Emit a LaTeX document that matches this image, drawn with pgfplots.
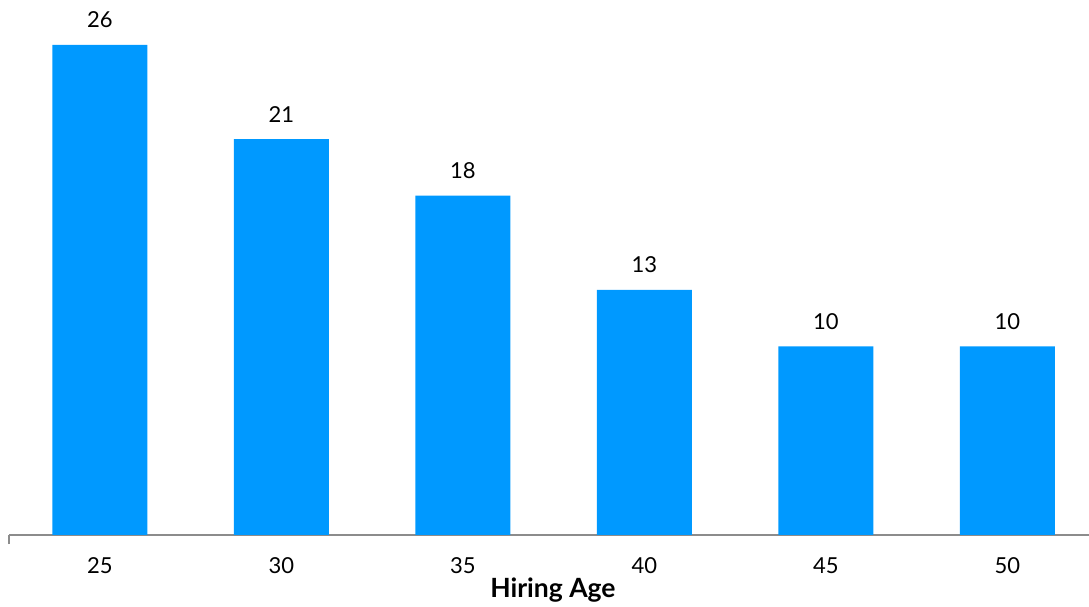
\documentclass[border=0pt]{standalone}
\usepackage{pgfplots}
\pgfplotsset{compat=1.18}
\usepackage{fontspec}
\setmainfont{Lato}
\definecolor{barblue}{HTML}{0099FF}
\definecolor{axgray}{HTML}{8C8C8C}
\begin{document}
\fontsize{22}{26}\selectfont
\begin{tikzpicture}
\begin{axis}[
  at={(0pt,0pt)}, anchor=south west,
  scale only axis,
  width=1089pt, height=535pt,
  xmin=-0.5, xmax=5.5,
  ymin=0, ymax=28.38,
  axis x line=bottom,
  axis y line=none,
  x axis line style={-, draw=axgray, line width=2pt},
  xtick={0,1,2,3,4,5},
  xticklabels={25,30,35,40,45,50},
  major tick length=0pt,
  extra x ticks={-0.5},
  extra x tick labels={},
  extra x tick style={major tick length=9pt, tick style={draw=axgray, line width=2pt}, tickpos=left, xtick align=outside},
  xticklabel style={anchor=base, yshift=-38pt, font=\fontsize{22}{26}\selectfont},
  xlabel={\textbf{Hiring Age}},
  xlabel style={at={(axis description cs:0.4993,0)}, anchor=base, yshift=-63pt, font=\fontsize{26.5}{30}\selectfont},
  ybar, bar width=95pt,
  /pgf/number format/assume math mode=true,
  nodes near coords={\pgfmathprintnumber{\pgfplotspointmeta}},
  every node near coord/.append style={anchor=base, yshift=17pt, font=\fontsize{22}{26}\selectfont, black},
  clip=false,
]
\addplot[fill=barblue, draw=none] coordinates {(0,26) (1,21) (2,18) (3,13) (4,10) (5,10)};
\end{axis}
\pgfresetboundingbox
\path (-9.25pt,-72pt) rectangle (1079.75pt,535pt);
\end{tikzpicture}
\end{document}
